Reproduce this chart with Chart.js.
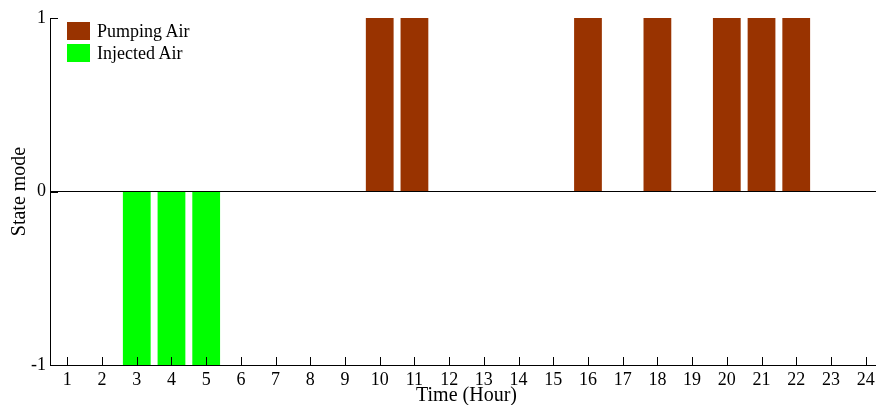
<!DOCTYPE html>
<html>
<head>
<meta charset="utf-8">
<script src="https://cdn.jsdelivr.net/npm/chart.js@4.4.1/dist/chart.umd.min.js"></script>
<style>
  html, body { margin: 0; padding: 0; background: #fff; overflow: hidden; }
  #wrap { position: relative; width: 883px; height: 405px; }
  #legend { position: absolute; left: 67px; top: 22px; font-family: "Liberation Serif", "Times New Roman", serif; font-size: 18px; color: #000; }
  .item { display: flex; align-items: center; height: 18px; margin-bottom: 4px; }
  .sw { width: 23px; height: 18px; margin-right: 7px; }
</style>
</head>
<body>
<div id="wrap">
  <canvas id="plot"></canvas>
  <div id="legend"></div>
</div>
<script>
// horas del dia
let hours = ["1","2","3","4","5","6","7","8","9","10","11","12","13","14","15","16","17","18","19","20","21","22","23","24"];
// estado de bombeo (1) e inyeccion (-1)
let pumping  = [0,0,0,0,0,0,0,0,0,1,1,0,0,0,0,1,0,1,0,1,1,1,0,0];
let injected = [0,0,-1,-1,-1,0,0,0,0,0,0,0,0,0,0,0,0,0,0,0,0,0,0,0];
let yTicks = [-1, 0, 1];

let serif = "'Liberation Serif', 'Times New Roman', serif";

// marcas de los ejes hacia adentro
let innerTicks = {
  id: "innerTicks",
  afterDatasetsDraw(chart) {
    let ctx = chart.ctx;
    let area = chart.chartArea;
    let xs = chart.scales.x;
    let ys = chart.scales.y;
    ctx.save();
    ctx.strokeStyle = "#000";
    ctx.lineWidth = 1;
    ctx.beginPath();
    xs.ticks.forEach((t, i) => {
      let px = Math.round(xs.getPixelForTick(i)) + 0.5;
      ctx.moveTo(px, area.bottom);
      ctx.lineTo(px, area.bottom - 8);
    });
    ys.ticks.forEach((t, i) => {
      let py = Math.round(ys.getPixelForTick(i)) + 0.5;
      ctx.moveTo(area.left, py);
      ctx.lineTo(area.left + 8, py);
    });
    ctx.stroke();
    ctx.restore();
  }
};

let config = {
  type: "bar",
  data: {
    labels: hours,
    datasets: [
      { label: "Pumping Air", data: pumping, backgroundColor: "#993300", borderWidth: 0 },
      { label: "Injected Air", data: injected, backgroundColor: "#00ff00", borderWidth: 0 }
    ]
  },
  options: {
    responsive: false,
    animation: false,
    devicePixelRatio: 1,
    layout: { padding: { top: 18, right: 0, left: 0, bottom: 0 } },
    datasets: { bar: { categoryPercentage: 1, barPercentage: 0.8 } },
    plugins: { legend: { display: false }, tooltip: { enabled: false } },
    scales: {
      x: {
        stacked: true,
        grid: { display: false, drawTicks: false },
        border: { display: true, color: "#000", width: 1 },
        ticks: { color: "#000", font: { family: serif, size: 18 }, padding: 4, maxRotation: 0, autoSkip: false },
        title: { display: true, text: "Time (Hour)", color: "#000", font: { family: serif, size: 20, lineHeight: 0.9 }, padding: 0 },
        afterFit: (s) => { s.height = 40; }
      },
      y: {
        stacked: true,
        min: -1,
        max: 1,
        afterBuildTicks: (s) => { s.ticks = yTicks.map((v) => ({ value: v })); },
        grid: {
          drawTicks: false,
          color: (c) => (c.tick && c.tick.value === 0 ? "#000" : "rgba(0,0,0,0)"),
          lineWidth: 1
        },
        border: { display: true, color: "#000", width: 1 },
        ticks: { color: "#000", font: { family: serif, size: 18 }, padding: 4 },
        title: { display: true, text: "State mode", color: "#000", font: { family: serif, size: 20 }, padding: { top: 8, bottom: 0 } },
        afterFit: (s) => { s.width = 50; }
      }
    }
  },
  plugins: [innerTicks]
};

let canvas = document.getElementById("plot");
canvas.width = 883;
canvas.height = 405;
let chart = new Chart(canvas, config);

// leyenda con los colores de cada serie
let legendRef = document.getElementById("legend");
chart.data.datasets.forEach((ds) => {
  let item = document.createElement("div");
  item.className = "item";
  let sw = document.createElement("div");
  sw.className = "sw";
  sw.style.background = ds.backgroundColor;
  let txt = document.createElement("span");
  txt.textContent = ds.label;
  item.appendChild(sw);
  item.appendChild(txt);
  legendRef.appendChild(item);
});
</script>
</body>
</html>
